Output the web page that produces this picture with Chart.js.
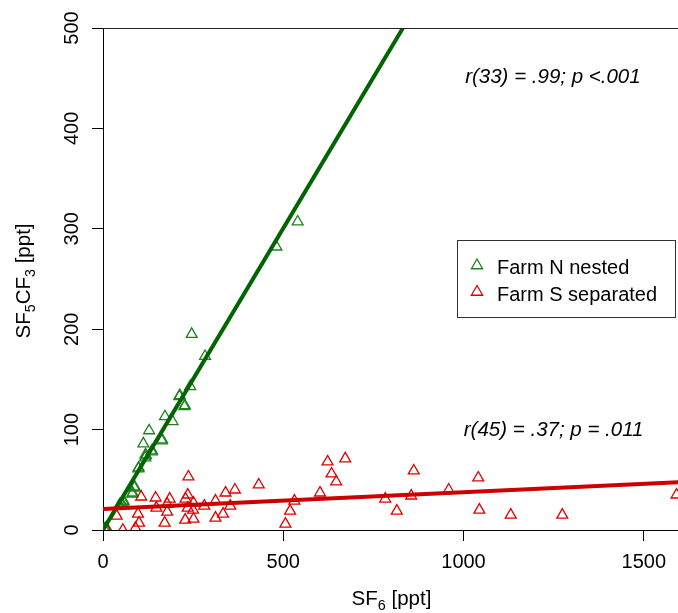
<!DOCTYPE html>
<html>
<head>
<meta charset="utf-8">
<title>SF5CF3 vs SF6</title>
<script src="https://cdn.jsdelivr.net/npm/chart.js@4.4.1/dist/chart.umd.min.js"></script>
<style>
    html, body { margin: 0; padding: 0; background: #fff; }
    canvas { display: block; }
</style>
</head>
<body>
<canvas id="tracerChart" width="678" height="613"></canvas>
<script>
// Farm N (nested) samples: SF6 and SF5CF3 in ppt
const farmNX = [540, 481, 246, 283, 242, 212, 226, 172, 193, 128, 112, 163, 135, 119, 117, 98, 87, 81, 56, 52, 45, 10, 4,
    57, 53, 46, 118, 164, 227, 8, 99, 88, 136, 213, 82];
const farmNY = [307, 282, 195, 173, 143, 133, 123, 113, 108, 99, 86, 89, 78, 74, 72, 61, 42, 36, 28, 25, 24, 2, 1,
    29, 26, 25, 75, 90, 124, 2, 62, 43, 79, 134, 37];

// Farm S (separated) samples
const farmSX = [623, 672, 634, 647, 602, 862, 1041, 783, 855, 959, 815, 1044, 1131, 1274, 1591, 432, 366, 340, 312, 281,
    353, 312, 333, 531, 519, 506, 237, 235, 229, 185, 146, 106, 178, 148, 178, 235, 251, 228, 251, 171,
    100, 97, 38, 55, 90, 10, 250];
const farmSY = [68, 71, 56, 48, 37, 59, 52, 31, 34, 40, 19, 20, 15, 15, 35, 45, 40, 37, 29, 24,
    24, 12, 16, 29, 19, 6, 53, 35, 31, 31, 32, 33, 26, 22, 18, 22, 27, 10, 11, 7,
    7, 16, 14, 0, 2, 0, 20];

// regression lines: [intercept, slope]
const farmNFit = [0, 0.601];
const farmSFit = [21, 0.0167];
const fitRange = [0, 1600];

// axis ticks
const xTicks = [0, 500, 1000, 1500];
const yTicks = [0, 100, 200, 300, 400, 500];

const FONT = "'Liberation Sans', Arial, Helvetica, sans-serif";
const GREEN_PT = '#1c821c';
const GREEN_LINE = '#006400';
const RED_PT = '#e00000';
const RED_LINE = '#cc0000';

function toPoints(xs, ys) {
    return xs.map((x, i) => ({ x: x, y: ys[i] }));
}

function fitLine(fit) {
    return fitRange.map(x => ({ x: x, y: fit[0] + fit[1] * x }));
}

// text with subscripts, parts = [[text, isSub], ...]
function richWidth(ctx, parts, size) {
    let w = 0;
    parts.forEach(p => {
        ctx.font = (p[1] ? size * 0.7 : size) + 'px ' + FONT;
        w += ctx.measureText(p[0]).width;
    });
    return w;
}

function drawRich(ctx, parts, x, y, size) {
    let w = richWidth(ctx, parts, size);
    let cx = x - w / 2;
    ctx.textAlign = 'left';
    ctx.textBaseline = 'alphabetic';
    parts.forEach(p => {
        ctx.font = (p[1] ? size * 0.7 : size) + 'px ' + FONT;
        ctx.fillText(p[0], cx, y + (p[1] ? size * 0.22 : 0));
        cx += ctx.measureText(p[0]).width;
    });
}

const annotations = [
    { text: 'r(33) = .99; p <.001', x: 1248, y: 445 },
    { text: 'r(45) = .37; p = .011', x: 1250, y: 93.5 }
];

// axis labels, titles, frame top, text notes and legend
const decorPlugin = {
    id: 'decor',
    afterDraw(chart) {
        const ctx = chart.ctx;
        const xs = chart.scales.x;
        const ys = chart.scales.y;
        const area = chart.chartArea;
        ctx.save();

        // top of the box
        ctx.strokeStyle = '#222';
        ctx.lineWidth = 1;
        ctx.beginPath();
        ctx.moveTo(area.left, Math.round(area.top) + 0.5);
        ctx.lineTo(area.right, Math.round(area.top) + 0.5);
        ctx.stroke();

        ctx.fillStyle = '#000';
        ctx.font = '20px ' + FONT;
        ctx.textAlign = 'center';
        ctx.textBaseline = 'alphabetic';
        xTicks.forEach(v => {
            ctx.fillText(String(v), xs.getPixelForValue(v), 567.5);
        });
        yTicks.forEach(v => {
            ctx.save();
            ctx.translate(77.5, ys.getPixelForValue(v));
            ctx.rotate(-Math.PI / 2);
            ctx.fillText(String(v), 0, 0);
            ctx.restore();
        });

        // axis titles
        drawRich(ctx, [['SF', false], ['6', true], [' [ppt]', false]], (area.left + area.right) / 2 + 1, 605, 20.5);
        ctx.save();
        ctx.translate(30, 281);
        ctx.rotate(-Math.PI / 2);
        drawRich(ctx, [['SF', false], ['5', true], ['CF', false], ['3', true], [' [ppt]', false]], 0, 0, 20.5);
        ctx.restore();

        // correlation notes
        ctx.font = 'italic 20.5px ' + FONT;
        ctx.textAlign = 'center';
        annotations.forEach(a => {
            ctx.fillText(a.text, xs.getPixelForValue(a.x), ys.getPixelForValue(a.y));
        });

        // legend
        ctx.strokeStyle = '#333';
        ctx.lineWidth = 1;
        ctx.strokeRect(457.5, 240.5, 218, 77);
        const items = [
            ['Farm N nested', GREEN_PT, 265.5, 274],
            ['Farm S separated', RED_PT, 292, 300.5]
        ];
        ctx.font = '20px ' + FONT;
        ctx.textAlign = 'left';
        items.forEach(it => {
            ctx.strokeStyle = it[1];
            ctx.fillStyle = 'rgba(0,0,0,0)';
            ctx.lineWidth = 1.3;
            Chart.helpers.drawPoint(ctx, { pointStyle: 'triangle', radius: 6.5, rotation: 0, borderWidth: 1.3 }, 477, it[2]);
            ctx.fillStyle = '#000';
            ctx.fillText(it[0], 497, it[3]);
        });

        ctx.restore();
    }
};

const axisGrid = {
    drawOnChartArea: false,
    drawTicks: true,
    tickLength: 11,
    color: '#000',
    lineWidth: 1
};

new Chart(document.getElementById('tracerChart'), {
    type: 'scatter',
    data: {
        datasets: [
            {
                label: 'Farm S fit',
                type: 'line',
                data: fitLine(farmSFit),
                borderColor: RED_LINE,
                borderWidth: 4,
                pointRadius: 0,
                fill: false,
                clip: 0,
                order: 0
            },
            {
                label: 'Farm N fit',
                type: 'line',
                data: fitLine(farmNFit),
                borderColor: GREEN_LINE,
                borderWidth: 4,
                pointRadius: 0,
                fill: false,
                clip: 0,
                order: 1
            },
            {
                label: 'Farm S separated',
                data: toPoints(farmSX, farmSY),
                pointStyle: 'triangle',
                pointRadius: 6.3,
                borderWidth: 1.3,
                borderColor: RED_PT,
                backgroundColor: 'rgba(0,0,0,0)',
                order: 2
            },
            {
                label: 'Farm N nested',
                data: toPoints(farmNX, farmNY),
                pointStyle: 'triangle',
                pointRadius: 6.3,
                borderWidth: 1.3,
                borderColor: GREEN_PT,
                backgroundColor: 'rgba(0,0,0,0)',
                order: 3
            }
        ]
    },
    options: {
        responsive: false,
        animation: false,
        events: [],
        layout: { autoPadding: false, padding: { top: 28, right: 0, bottom: 0, left: 0 } },
        plugins: {
            legend: { display: false },
            tooltip: { enabled: false }
        },
        scales: {
            x: {
                type: 'linear',
                min: 0,
                max: 1595,
                afterBuildTicks: s => { s.ticks = xTicks.map(v => ({ value: v })); },
                afterFit: s => { s.height = 83; },
                ticks: { display: false },
                grid: axisGrid,
                border: { display: true, color: '#000', width: 1 }
            },
            y: {
                type: 'linear',
                min: 0,
                max: 500,
                afterBuildTicks: s => { s.ticks = yTicks.map(v => ({ value: v })); },
                afterFit: s => { s.width = 103; },
                ticks: { display: false },
                grid: axisGrid,
                border: { display: true, color: '#000', width: 1 }
            }
        }
    },
    plugins: [decorPlugin]
});
</script>
</body>
</html>
